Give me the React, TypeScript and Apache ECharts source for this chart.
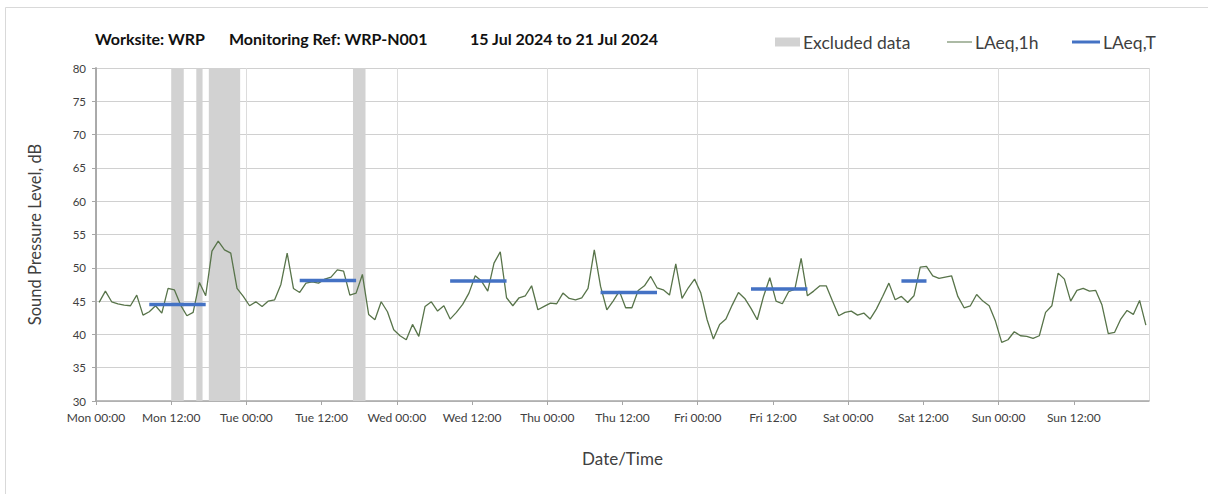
import React, { useEffect, useRef } from "react";
import * as echarts from "echarts";

// ---------- DATA ----------
const TITLE_PARTS = ["Worksite: WRP", "Monitoring Ref: WRP-N001", "15 Jul 2024 to 21 Jul 2024"];

// x tick labels, one per 12 hours, starting Mon 00:00
const TICK_LABELS = [
  "Mon 00:00", "Mon 12:00", "Tue 00:00", "Tue 12:00", "Wed 00:00", "Wed 12:00",
  "Thu 00:00", "Thu 12:00", "Fri 00:00", "Fri 12:00", "Sat 00:00", "Sat 12:00",
  "Sun 00:00", "Sun 12:00",
];

// LAeq,1h hourly values (hour 0 = Mon 00:00)
const LAEQ_1H = [
  44.8, 46.5, 44.9, 44.6, 44.4, 44.3, 45.9, 42.9, 43.4, 44.3, 43.2, 46.9,
  46.7, 44.4, 42.8, 43.3, 47.8, 45.8, 52.5, 54.0, 52.7, 52.2, 46.9, 45.7,
  44.3, 44.9, 44.2, 45.0, 45.2, 47.5, 52.2, 46.9, 46.3, 47.7, 47.9, 47.7,
  48.3, 48.6, 49.7, 49.5, 45.9, 46.2, 49.0, 43.0, 42.2, 44.9, 43.4, 40.7,
  39.8, 39.2, 41.5, 39.7, 44.2, 44.9, 43.5, 44.3, 42.3, 43.3, 44.5, 46.2,
  48.8, 48.0, 46.5, 50.7, 52.4, 45.5, 44.3, 45.5, 45.8, 47.3, 43.7, 44.2,
  44.7, 44.6, 46.2, 45.4, 45.2, 45.5, 46.9, 52.7, 47.2, 43.7, 45.0, 46.5,
  44.0, 44.0, 46.6, 47.3, 48.7, 47.0, 46.7, 45.9, 50.6, 45.4, 47.0, 48.3,
  46.2, 42.2, 39.3, 41.5, 42.3, 44.4, 46.3, 45.4, 43.9, 42.2, 45.7, 48.5,
  45.0, 44.6, 46.4, 46.8, 51.4, 45.8, 46.5, 47.3, 47.3, 45.0, 42.8, 43.3,
  43.5, 42.9, 43.2, 42.3, 43.8, 45.7, 47.7, 45.2, 45.7, 44.8, 45.8, 50.1,
  50.2, 48.8, 48.4, 48.6, 48.8, 45.7, 44.0, 44.3, 46.0, 45.0, 44.3, 42.0,
  38.8, 39.2, 40.4, 39.8, 39.7, 39.4, 39.8, 43.3, 44.3, 49.2, 48.3, 45.0,
  46.6, 46.9, 46.5, 46.6, 44.4, 40.1, 40.3, 42.3, 43.6, 43.0, 45.1, 41.4,
];

// LAeq,T periods: first hour, last hour (inclusive), level
const LAEQ_T_START = [8, 32, 56, 80, 104, 128];
const LAEQ_T_END = [17, 41, 65, 89, 113, 132];
const LAEQ_T_VALUE = [44.5, 48.1, 48.0, 46.3, 46.8, 48.0];

// Excluded data ranges (hours from Mon 00:00)
const EXCLUDED_START = [12, 16, 18, 41];
const EXCLUDED_END = [14, 17, 23, 43];

// Axis ranges
const Y_MIN = 30;
const Y_MAX = 80;
const Y_STEP = 5;
const X_MIN = 0;
const X_MAX = 168;
const X_TICK = 12;
const X_DAY = 24;

// ---------- STYLE ----------
const FONT = "Lato";
const GREEN = "#58744a";
const BLUE = "#4472c4";
const GREY_BAR = "#d2d2d2";
const AXIS_COLOR = "#a6a6a6";
const TEXT = "#404040";

export default function App() {
  const ref = useRef<HTMLDivElement>(null);

  useEffect(() => {
    if (!ref.current) return;
    const chart = echarts.init(ref.current, undefined, { renderer: "svg" });

    // hourly points are plotted at the middle of each hour
    const lineData = LAEQ_1H.map((v, i) => [i + 0.5, v]);

    const tData: any[] = [];
    LAEQ_T_START.forEach((s, i) => {
      if (i > 0) tData.push([s, "-"]);
      tData.push([s + 0.5, LAEQ_T_VALUE[i]]);
      tData.push([LAEQ_T_END[i] + 0.5, LAEQ_T_VALUE[i]]);
    });

    const excludedData = EXCLUDED_START.map((s, i) => [s, EXCLUDED_END[i]]);

    const legendText = { fontFamily: FONT, fontSize: 17.5, color: TEXT, padding: [0, 0, 0, -2] };

    const option: any = {
      animation: false,
      textStyle: { fontFamily: FONT },
      graphic: [
        {
          type: "rect",
          z: -10,
          silent: true,
          shape: { x: 5.5, y: 7.5, width: 1300, height: 600 },
          style: { fill: "none", stroke: "#d9d9d9", lineWidth: 1 },
        },
      ],
      title: [
        { text: TITLE_PARTS[0], left: 95, top: 30 },
        { text: TITLE_PARTS[1], left: 229, top: 30 },
        { text: TITLE_PARTS[2], left: 470, top: 30 },
      ].map((t) => ({
        ...t,
        padding: 0,
        textStyle: { fontFamily: FONT, fontSize: 16, fontWeight: "bold", color: "#111" },
      })),
      legend: [
        {
          data: ["Excluded data"],
          left: 775,
          top: 33,
          itemWidth: 25,
          itemHeight: 9,
          icon: "rect",
          padding: 0,
          textStyle: legendText,
        },
        {
          data: ["LAeq,1h"],
          left: 947,
          top: 33,
          itemWidth: 25,
          itemHeight: 1,
          icon: "rect",
          padding: 0,
          textStyle: legendText,
        },
        {
          data: ["LAeq,T"],
          left: 1072,
          top: 33,
          itemWidth: 28,
          itemHeight: 3,
          icon: "rect",
          padding: 0,
          textStyle: legendText,
        },
      ],
      grid: { left: 96, right: 59, top: 68, bottom: 93, containLabel: false },
      xAxis: [
        {
          type: "value",
          min: X_MIN,
          max: X_MAX,
          interval: X_DAY,
          position: "bottom",
          axisLine: { show: false },
          axisTick: { show: false },
          axisLabel: { show: false },
          splitLine: { show: true, lineStyle: { color: "#dcdcdc", width: 1 } },
        },
        {
          type: "value",
          min: X_MIN,
          max: X_MAX,
          interval: X_TICK,
          position: "bottom",
          name: "Date/Time",
          nameLocation: "middle",
          nameGap: 49,
          nameTextStyle: { fontFamily: FONT, fontSize: 17, color: TEXT },
          axisLine: { show: true, onZero: false, lineStyle: { color: AXIS_COLOR, width: 1.5 } },
          axisTick: { show: true, length: 4, lineStyle: { color: AXIS_COLOR } },
          axisLabel: {
            fontFamily: FONT,
            fontSize: 12,
            color: TEXT,
            margin: 10,
            showMaxLabel: false,
            formatter: (v: number) => TICK_LABELS[Math.round(v / X_TICK)] ?? "",
          },
          splitLine: { show: false },
        },
      ],
      yAxis: [
        {
          type: "value",
          min: Y_MIN,
          max: Y_MAX,
          interval: Y_STEP,
          name: "Sound Pressure Level, dB",
          nameLocation: "middle",
          nameGap: 53,
          nameTextStyle: { fontFamily: FONT, fontSize: 16.5, color: TEXT },
          axisLine: { show: true, lineStyle: { color: AXIS_COLOR, width: 1.5 } },
          axisTick: { show: true, length: 4, lineStyle: { color: AXIS_COLOR } },
          axisLabel: { fontFamily: FONT, fontSize: 11.5, color: TEXT, margin: 10 },
          splitLine: { show: true, lineStyle: { color: "#d0d0d0", width: 1 } },
        },
        {
          type: "value",
          min: Y_MIN,
          max: Y_MAX,
          interval: Y_STEP,
          position: "right",
          axisLine: { show: true, lineStyle: { color: AXIS_COLOR, width: 1.5 } },
          axisTick: { show: false },
          axisLabel: { show: false },
          splitLine: { show: false },
        },
      ],
      series: [
        {
          name: "Excluded data",
          type: "custom",
          xAxisIndex: 1,
          yAxisIndex: 0,
          z: 1,
          clip: true,
          itemStyle: { color: GREY_BAR },
          encode: { x: [0, 1] },
          data: excludedData,
          renderItem: (_params: any, api: any) => {
            const p0 = api.coord([api.value(0), Y_MAX]);
            const p1 = api.coord([api.value(1), Y_MIN]);
            return {
              type: "rect",
              shape: { x: p0[0], y: p0[1], width: p1[0] - p0[0], height: p1[1] - p0[1] },
              style: { fill: GREY_BAR },
            };
          },
        },
        {
          name: "LAeq,1h",
          type: "line",
          xAxisIndex: 1,
          yAxisIndex: 0,
          z: 3,
          symbol: "none",
          color: GREEN,
          lineStyle: { color: GREEN, width: 1.3 },
          data: lineData,
        },
        {
          name: "LAeq,T",
          type: "line",
          xAxisIndex: 1,
          yAxisIndex: 0,
          z: 4,
          symbol: "none",
          connectNulls: false,
          color: BLUE,
          lineStyle: { color: BLUE, width: 3.5, cap: "butt" },
          data: tData,
        },
      ],
    };

    chart.setOption(option);
    return () => chart.dispose();
  }, []);

  return (
    <div
      ref={ref}
      style={{ position: "absolute", left: 0, top: 0, width: 1208, height: 494, background: "#fff" }}
    />
  );
}
